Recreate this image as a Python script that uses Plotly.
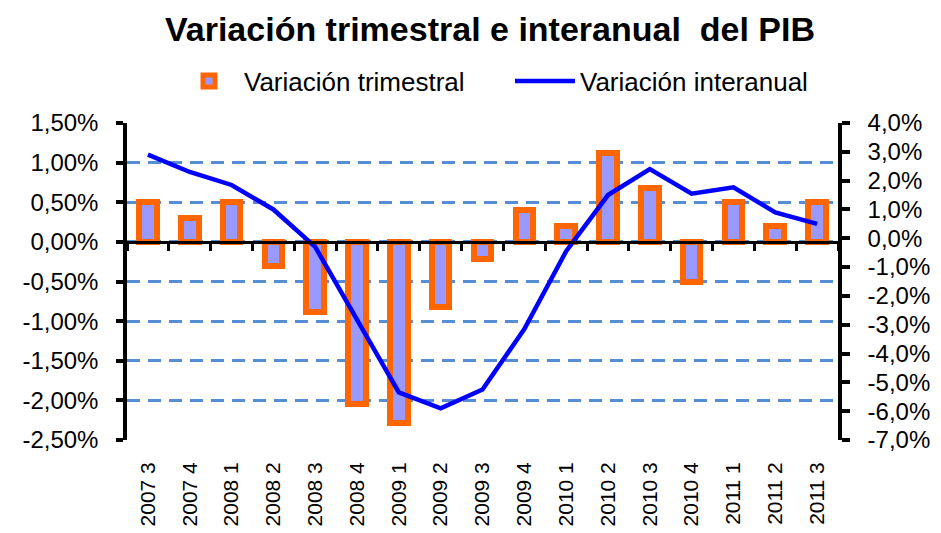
import plotly.graph_objects as go

categories = ["2007 3", "2007 4", "2008 1", "2008 2", "2008 3", "2008 4",
              "2009 1", "2009 2", "2009 3", "2009 4", "2010 1", "2010 2",
              "2010 3", "2010 4", "2011 1", "2011 2", "2011 3"]

variacion_trimestral = [0.5, 0.3, 0.5, -0.3, -0.88, -2.05, -2.28, -0.82, -0.22,
                        0.4, 0.2, 1.12, 0.68, -0.5, 0.5, 0.2, 0.5]

variacion_interanual = [2.9, 2.3, 1.85, 1.0, -0.3, -2.8, -5.35, -5.9, -5.25,
                        -3.15, -0.45, 1.5, 2.4, 1.55, 1.77, 0.9, 0.5]

left_ticks = [-2.5, -2.0, -1.5, -1.0, -0.5, 0.0, 0.5, 1.0, 1.5]
left_tick_labels = ["-2,50%", "-2,00%", "-1,50%", "-1,00%", "-0,50%",
                    "0,00%", "0,50%", "1,00%", "1,50%"]
right_ticks = [-7, -6, -5, -4, -3, -2, -1, 0, 1, 2, 3, 4]
right_tick_labels = ["-7,0%", "-6,0%", "-5,0%", "-4,0%", "-3,0%", "-2,0%",
                     "-1,0%", "0,0%", "1,0%", "2,0%", "3,0%", "4,0%"]

left_range = [left_ticks[0], left_ticks[-1]]
right_range = [right_ticks[0], right_ticks[-1]]
cat_range = [-0.5, len(categories) - 0.5]
zero_pos = (0 - left_range[0]) / (left_range[1] - left_range[0])

FONT = "Liberation Sans, Arial, sans-serif"

fig = go.Figure()

fig.add_trace(go.Bar(
    x=categories, y=variacion_trimestral, name="Variación trimestral",
    marker=dict(color="#9999FF", line=dict(color="#FF6600", width=6)),
    width=0.42, xaxis="x", yaxis="y",
))

fig.add_trace(go.Scatter(
    x=categories, y=variacion_interanual, name="Variación interanual",
    mode="lines", line=dict(color="#0000FF", width=4.5),
    xaxis="x2", yaxis="y2",
))

fig.update_layout(
    width=941, height=533,
    margin=dict(l=119, r=111, t=115, b=101, autoexpand=False),
    paper_bgcolor="white", plot_bgcolor="white",
    font=dict(family=FONT, color="black"),
    showlegend=True,
    title=dict(
        text="<b>Variación trimestral e interanual  del PIB</b>",
        font=dict(family=FONT, size=34, color="black"),
        x=482 / 941, xref="container", xanchor="center",
        y=1 - 21 / 533, yref="container", yanchor="middle",
    ),
    legend=dict(
        orientation="h", x=166 / 941, xanchor="left", xref="container",
        y=1 - 73 / 533, yref="container", yanchor="middle",
        font=dict(family=FONT, size=26, color="black"),
        itemwidth=60, entrywidth=261, entrywidthmode="pixels",
        tracegroupgap=0, bgcolor="rgba(0,0,0,0)",
    ),
    bargap=0,
    xaxis=dict(
        type="category", categoryorder="array", categoryarray=categories,
        range=cat_range, showline=False, showgrid=False, zeroline=False,
        ticks="", tickangle=-90, tickfont=dict(family=FONT, size=21, color="black"),
        ticklabelstandoff=17,
    ),
    xaxis2=dict(
        type="category", categoryorder="array", categoryarray=categories,
        range=cat_range, overlaying="x", anchor="free", position=zero_pos,
        showline=True, linecolor="black", linewidth=2.5,
        ticks="outside", tickson="boundaries", ticklen=7, tickwidth=2.5,
        tickcolor="black", showticklabels=False, showgrid=False, zeroline=False,
    ),
    yaxis=dict(
        range=left_range, tickvals=left_ticks, ticktext=left_tick_labels,
        showgrid=True, gridcolor="#558ED5", gridwidth=2.5, griddash="13px,8px",
        zeroline=False, showline=True, linecolor="black", linewidth=3.5,
        ticks="outside", ticklen=7, tickwidth=3.5, tickcolor="black",
        tickfont=dict(family=FONT, size=24, color="black"),
        ticklabelstandoff=13,
    ),
    yaxis2=dict(
        range=right_range, tickvals=right_ticks, ticktext=right_tick_labels,
        overlaying="y", side="right", anchor="x",
        showgrid=False, zeroline=False, showline=True, linecolor="black",
        linewidth=3.5, ticks="outside", ticklen=8, tickwidth=3.5,
        tickcolor="black", tickfont=dict(family=FONT, size=24, color="black"),
        ticklabelstandoff=13,
    ),
    yaxis3=dict(
        range=right_range, tickvals=right_ticks, overlaying="y", side="right",
        anchor="x", showgrid=False, zeroline=False, showline=False,
        ticks="inside", ticklen=8, tickwidth=3.5, tickcolor="black",
        showticklabels=False,
    ),
)

fig.write_html("out.html")
